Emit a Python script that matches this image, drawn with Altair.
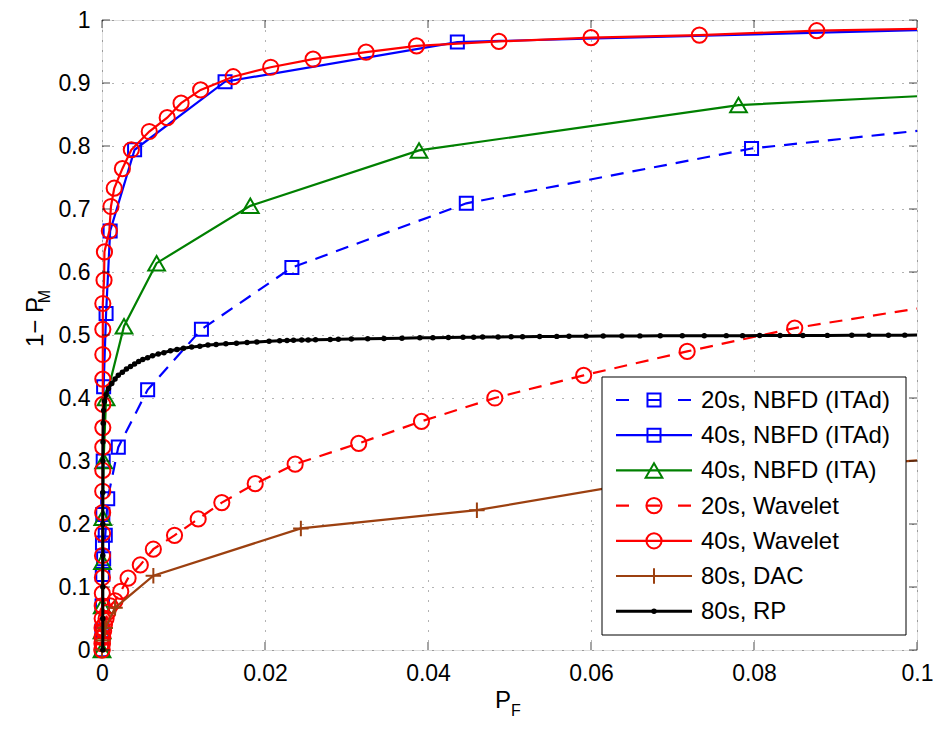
import altair as alt
import pandas as pd

W, H = 815, 630
FONT = "Liberation Sans"

X_TICKS = [0, 0.02, 0.04, 0.06, 0.08, 0.1]
Y_TICKS = [0, 0.1, 0.2, 0.3, 0.4, 0.5, 0.6, 0.7, 0.8, 0.9, 1.0]

LABELS = ["20s, NBFD (ITAd)", "40s, NBFD (ITAd)", "40s, NBFD (ITA)",
          "20s, Wavelet", "40s, Wavelet", "80s, DAC", "80s, RP"]

# 20s, NBFD (ITAd)
X_20_ITAD = [0, 0.00002, 0.00005, 0.0001, 0.0002, 0.0004, 0.0007, 0.002, 0.0056,
             0.0122, 0.0233, 0.0447, 0.0797, 0.1]
Y_20_ITAD = [0, 0.03, 0.07, 0.12, 0.145, 0.182, 0.24, 0.322, 0.413,
             0.509, 0.607, 0.709, 0.796, 0.824]

# 40s, NBFD (ITAd)
X_40_ITAD = [0, 0.00001, 0.00002, 0.00004, 0.00006, 0.0001, 0.00015, 0.0002, 0.0005,
             0.001, 0.004, 0.0151, 0.0436, 0.1]
Y_40_ITAD = [0, 0.03, 0.07, 0.12, 0.17, 0.215, 0.3, 0.418, 0.534,
             0.665, 0.794, 0.902, 0.965, 0.984]

# 40s, NBFD (ITA)
X_40_ITA = [0, 0.00001, 0.00003, 0.00006, 0.0001, 0.0002, 0.0005, 0.0027, 0.0067,
            0.0182, 0.0389, 0.0781, 0.1]
Y_40_ITA = [0, 0.03, 0.07, 0.14, 0.21, 0.30, 0.40, 0.514, 0.614,
            0.705, 0.793, 0.865, 0.879]

# 20s, Wavelet
X_20_WAV = [0, 0.00005, 0.0001, 0.0002, 0.0003, 0.0005, 0.0007, 0.001, 0.0016, 0.0023,
            0.0032, 0.0047, 0.0063, 0.0089, 0.0118, 0.0147, 0.0188, 0.0237, 0.0315,
            0.0392, 0.0482, 0.0591, 0.0718, 0.085, 0.1]
Y_20_WAV = [0, 0.01, 0.02, 0.03, 0.04, 0.05, 0.06, 0.07, 0.078, 0.093,
            0.114, 0.135, 0.16, 0.182, 0.208, 0.234, 0.264, 0.295, 0.328,
            0.363, 0.40, 0.436, 0.474, 0.511, 0.542]

# 40s, Wavelet
X_40_WAV = [0, 0, 0, 0.00001, 0.00002, 0.00003, 0.00004, 0.00005, 0.00006, 0.00007,
            0.00008, 0.00009, 0.0001, 0.0001, 0.0001, 0.0001, 0.0001, 0.0001, 0.0001,
            0.0001, 0.00025, 0.0003, 0.0009, 0.0011, 0.0015, 0.0025, 0.0036, 0.0058,
            0.008, 0.0097, 0.0121, 0.0161, 0.0207, 0.0259, 0.0324, 0.0386, 0.0487,
            0.06, 0.0733, 0.0877, 0.1]
Y_40_WAV = [0, 0.01, 0.02, 0.035, 0.05, 0.07, 0.09, 0.115, 0.15, 0.185,
            0.218, 0.252, 0.285, 0.322, 0.353, 0.39, 0.43, 0.469, 0.509,
            0.55, 0.587, 0.632, 0.665, 0.704, 0.733, 0.764, 0.794, 0.823,
            0.845, 0.868, 0.889, 0.910, 0.925, 0.938, 0.949, 0.959, 0.966,
            0.972, 0.976, 0.983, 0.986]

# 80s, DAC
X_80_DAC = [0, 0.0001, 0.0004, 0.0016, 0.0063, 0.0244, 0.046, 0.067, 0.1]
Y_80_DAC = [0, 0.015, 0.035, 0.067, 0.118, 0.193, 0.222, 0.268, 0.301]

# 80s, RP
X_80_RP = [0.0001, 0.0001, 0.0001, 0.0001, 0.0001, 0.0001, 0.0001, 0.00012, 0.00015, 0.0002,
           0.0003, 0.0005, 0.0008, 0.0012, 0.0016, 0.002, 0.0025, 0.003, 0.0035, 0.004,
           0.0045, 0.005, 0.0056, 0.0062, 0.0069, 0.0076, 0.0084, 0.0092, 0.010, 0.011,
           0.012, 0.013, 0.014, 0.0152, 0.0165, 0.0178, 0.019, 0.0205, 0.0218, 0.0227,
           0.0235, 0.0245, 0.0253, 0.0262, 0.028, 0.029, 0.0306, 0.0326, 0.0346, 0.0368,
           0.039, 0.0406, 0.0425, 0.0443, 0.0456, 0.0467, 0.0486, 0.0502, 0.0516, 0.0537,
           0.0558, 0.0573, 0.0594, 0.0615, 0.0638, 0.066, 0.0685, 0.0712, 0.0739, 0.0766,
           0.0786, 0.0807, 0.0832, 0.086, 0.089, 0.092, 0.0941, 0.0965, 0.0985, 0.1]
Y_80_RP = [0, 0.05, 0.1, 0.15, 0.2, 0.25, 0.3, 0.33, 0.36, 0.38,
           0.395, 0.405, 0.415, 0.423, 0.43, 0.436, 0.441, 0.446, 0.45, 0.454,
           0.458, 0.461, 0.464, 0.467, 0.47, 0.472, 0.475, 0.477, 0.479, 0.481,
           0.482, 0.484, 0.485, 0.486, 0.487, 0.488, 0.489, 0.49, 0.491, 0.4912,
           0.4915, 0.492, 0.4922, 0.4925, 0.493, 0.4933, 0.4937, 0.494, 0.4945, 0.495,
           0.4955, 0.4958, 0.496, 0.4963, 0.4965, 0.4967, 0.497, 0.4972, 0.4974, 0.4976,
           0.4978, 0.498, 0.4982, 0.4984, 0.4985, 0.4986, 0.4987, 0.4988, 0.4989, 0.499,
           0.499, 0.4991, 0.4992, 0.4993, 0.4994, 0.4995, 0.4996, 0.4997, 0.4998, 0.4999]

BLUE, GREEN, RED, BROWN, BLACK = "#0000FF", "#008000", "#FF0000", "#9C4010", "#000000"
PLUS = "M-1,0L1,0M0,-1L0,1"

# label, xs, ys, color, dash, shape, size, filled, line width
SERIES = [
    (LABELS[0], X_20_ITAD, Y_20_ITAD, BLUE, [13, 9], "square", 170, False, 2.2),
    (LABELS[1], X_40_ITAD, Y_40_ITAD, BLUE, [1, 0], "square", 170, False, 2.2),
    (LABELS[2], X_40_ITA, Y_40_ITA, GREEN, [1, 0], "triangle-up", 280, False, 2.2),
    (LABELS[3], X_20_WAV, Y_20_WAV, RED, [13, 9], "circle", 230, False, 2.2),
    (LABELS[4], X_40_WAV, Y_40_WAV, RED, [1, 0], "circle", 230, False, 2.2),
    (LABELS[5], X_80_DAC, Y_80_DAC, BROWN, [1, 0], PLUS, 240, False, 2.2),
    (LABELS[6], X_80_RP, Y_80_RP, BLACK, [1, 0], "circle", 30, True, 3.0),
]

x_enc = alt.X("x:Q", scale=alt.Scale(domain=[0, 0.1], nice=False, zero=False),
              axis=alt.Axis(values=X_TICKS, format="~g", title=None, grid=True,
                            gridDash=[1, 9], gridColor="#000", gridOpacity=0.6,
                            tickSize=0, domain=False, labelFontSize=23, labelFont=FONT,
                            labelColor="#000", labelPadding=12, labelFlush=False,
                            labelOverlap=False))
y_enc = alt.Y("y:Q", scale=alt.Scale(domain=[0, 1], nice=False, zero=False),
              axis=alt.Axis(values=Y_TICKS, format="~g", title=None, grid=True,
                            gridDash=[1, 9], gridColor="#000", gridOpacity=0.6,
                            tickSize=0, domain=False, labelFontSize=23, labelFont=FONT,
                            labelColor="#000", labelPadding=12, labelFlush=False,
                            labelOverlap=False))

layers = []
for label, xs, ys, color, dash, shape, size, filled, lw in SERIES:
    df = pd.DataFrame({"x": xs, "y": ys, "i": range(len(xs))})
    base = alt.Chart(df)
    line_kw = dict(color=color, strokeWidth=lw)
    if dash != [1, 0]:
        line_kw["strokeDash"] = dash
    layers.append(base.mark_line(**line_kw).encode(x=x_enc, y=y_enc, order="i:Q"))
    pt_kw = dict(shape=shape, size=size, filled=filled, color=color, opacity=1)
    if not filled:
        pt_kw["strokeWidth"] = 2
    layers.append(base.transform_filter("datum.x < 0.0999")
                  .mark_point(**pt_kw).encode(x=x_enc, y=y_enc))

# inside tick marks on all four sides (MATLAB box style)
tx = alt.Chart(pd.DataFrame({"x": X_TICKS}))
ty = alt.Chart(pd.DataFrame({"y": Y_TICKS}))
for yv in (H - 4, 4):
    layers.append(tx.mark_tick(orient="vertical", size=8, thickness=1, color="black")
                  .encode(x=x_enc, y=alt.value(yv)))
for xv in (4, W - 4):
    layers.append(ty.mark_tick(orient="horizontal", size=8, thickness=1, color="black")
                  .encode(y=y_enc, x=alt.value(xv)))

# legend
one = alt.Chart(pd.DataFrame({"a": [0]}))
LX0, LX1, LY0, LY1 = 500, 804, 357, 615
layers.append(one.mark_rect(fill="white", stroke="black", strokeWidth=1)
              .encode(x=alt.value(LX0), x2=alt.value(LX1), y=alt.value(LY0), y2=alt.value(LY1)))
for k, (label, xs, ys, color, dash, shape, size, filled, lw) in enumerate(SERIES):
    ly = LY0 + 23 + 35.2 * k
    rule_kw = dict(color=color, strokeWidth=lw)
    if dash != [1, 0]:
        rule_kw["strokeDash"] = [13, 18]
    layers.append(one.mark_rule(**rule_kw)
                  .encode(x=alt.value(LX0 + 14), x2=alt.value(LX0 + 90), y=alt.value(ly)))
    pt_kw = dict(shape=shape, size=size, filled=filled, color=color, opacity=1)
    if not filled:
        pt_kw["strokeWidth"] = 2
    layers.append(one.mark_point(**pt_kw).encode(x=alt.value(LX0 + 52), y=alt.value(ly)))
    layers.append(one.mark_text(align="left", baseline="middle", fontSize=24, font=FONT,
                                color="black")
                  .encode(x=alt.value(LX0 + 99), y=alt.value(ly + 1), text=alt.value(label)))

# axis titles with subscripts
layers.append(one.mark_text(align="center", baseline="alphabetic", fontSize=24, font=FONT,
                            color="black")
              .encode(x=alt.value(401), y=alt.value(688), text=alt.value("P")))
layers.append(one.mark_text(align="left", baseline="alphabetic", fontSize=16, font=FONT,
                            color="black")
              .encode(x=alt.value(409), y=alt.value(696), text=alt.value("F")))
layers.append(one.mark_text(align="center", baseline="alphabetic", fontSize=24, font=FONT,
                            color="black", angle=270)
              .encode(x=alt.value(-59), y=alt.value(302), text=alt.value("1\u2212 P")))
layers.append(one.mark_text(align="right", baseline="alphabetic", fontSize=16, font=FONT,
                            color="black", angle=270)
              .encode(x=alt.value(-52), y=alt.value(270), text=alt.value("M")))

chart = alt.layer(*layers).properties(
    width=W, height=H,
    autosize=alt.AutoSizeParams(type="none"),
    padding={"left": 94, "top": 12, "right": 16, "bottom": 72},
).configure_view(stroke="black", strokeWidth=1.3).configure(background="white")

chart.save("out.html", embed_options={"renderer": "svg", "actions": False})
